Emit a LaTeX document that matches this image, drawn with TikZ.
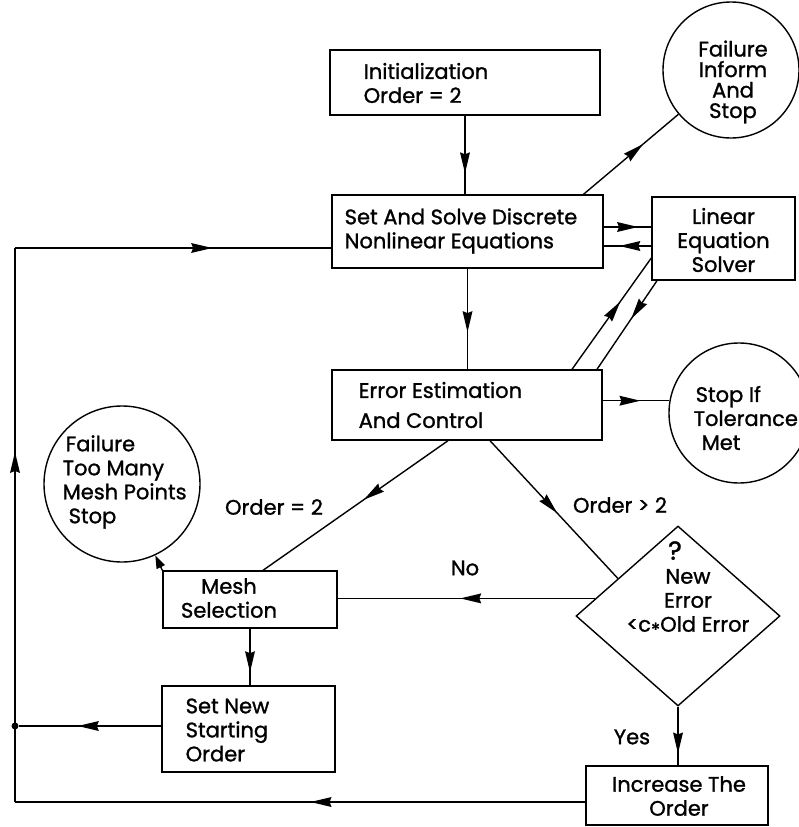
\documentclass[tikz,border=0pt]{standalone}
\usepackage{fontspec}
\newfontfamily\lett{Poppins}[FakeBold=1.2]
\usetikzlibrary{arrows.meta,decorations.markings,shapes.geometric}
\begin{document}
\begin{tikzpicture}[x=1pt,y=-1pt, line width=1.4pt,
  box/.style={draw, rectangle, inner sep=0pt},
  circ/.style={draw, circle, inner sep=0pt},
  txt/.style={font=\lett\fontsize{21}{24}\selectfont, inner sep=0pt, align=left},
  midarr/.style={postaction={decorate}, decoration={markings, mark=at position #1 with {\fill (1pt,0pt) -- (-20pt,5pt) -- (-18pt,0pt) -- (-20pt,-5pt) -- cycle;}}},
  tiparr/.style={-{Triangle[length=13pt,width=9pt]}}
]
\useasboundingbox (0,0) rectangle (799,827);

% boxes and circles
\node[box, minimum width=270, minimum height=65] (init) at (465,82.5) {};
\node[txt, anchor=west] (initt) at (363,83) {Initialization\\Order = 2};

\node[box, minimum width=271, minimum height=73] (solve) at (467.5,231.5) {};
\node[txt, anchor=west] (solvet) at (344,231) {Set And Solve Discrete\\Nonlinear Equations};

\node[box, minimum width=143, minimum height=83] (lin) at (723.5,238.5) {};
\node[txt, align=center] (lint) at (723.5,240) {Linear\\Equation\\Solver};

\node[circ, minimum size=136] (finf) at (731,70) {};
\node[txt, align=center, font=\lett\fontsize{21}{20.5}\selectfont] (finft) at (733,82) {Failure\\Inform\\And\\Stop};

\node[box, minimum width=270, minimum height=70] (err) at (467,405) {};
\node[txt, anchor=west, font=\lett\fontsize{21}{30}\selectfont] (errt) at (358,405) {Error Estimation\\And Control};

\node[circ, minimum size=140] (tol) at (739,413) {};
\node[txt, anchor=west] (tolt) at (693,418) {\hspace*{2pt}Stop If\\Tolerance\\\hspace*{8pt}Met};

\node[circ, minimum size=156] (fmesh) at (122,484) {};
\node[txt, anchor=west] (fmesht) at (62,482) {\hspace*{3pt}Failure\\Too Many\\Mesh Points\\\hspace*{6pt}Stop};

\node[box, minimum width=174, minimum height=57] (mesh) at (250,599.5) {};
\node[txt, align=center] (mesht) at (229,598) {Mesh\\Selection};

\node[box, minimum width=173, minimum height=86] (snew) at (248.5,729) {};
\node[txt, anchor=west] (snewt) at (185,730) {Set New\\Starting\\Order};

\node[draw, diamond, minimum width=204, minimum height=180, inner sep=0pt] (dia) at (678,616) {};
\node[txt, align=center] (diat) at (688,589) {{\fontsize{26}{26}\selectfont ?}\hspace*{26pt}\\New\hspace*{46pt}\\Error\hspace*{46pt}\\{<}c\raisebox{-5pt}{\fontsize{19}{19}\selectfont *}Old Error};

\node[box, minimum width=182, minimum height=59] (inc) at (677,795.5) {};
\node[txt, align=center] (inct) at (679,796) {Increase The\\Order};

% labels
\node[txt] (l2) at (274,507) {Order = 2};
\node[txt] (lg2) at (620,505) {Order > 2};
\node[txt] (lno) at (465,568) {No};
\node[txt] (lyes) at (632,737) {Yes};

% loop coordinates
\coordinate (tl) at (15,248);
\coordinate (bl) at (15,802);
\node[circle, fill, inner sep=0pt, minimum size=7] (dot) at (15,726) {};

% connectors
\draw[midarr=0.72] (init.south) -- (init.south |- solve.north);
\draw[midarr=0.62] ([xshift=116]solve.north) -- (finf);
\draw[midarr=0.7] ([yshift=4.5]solve.east) -- ([yshift=4.5]solve.east -| lin.west);
\draw[midarr=0.65] ([yshift=-14.5]solve.east -| lin.west) -- ([yshift=-14.5]solve.east);
\draw[midarr=0.6] ([xshift=105]err.north) -- ([yshift=-19.5]lin.west);
\draw[midarr=0.42] ([xshift=-66.5]lin.south) -- ([xshift=130]err.north);
\draw[midarr=0.62] (solve.south) -- (solve.south |- err.north);
\draw[midarr=0.55] (tol.170 -| err.east) -- (tol.170);
\draw[midarr=0.45] ([xshift=-19]err.south) -- ([xshift=13]mesh.north);
\draw[midarr=0.52] ([xshift=23]err.south) -- (dia.148);
\draw[midarr=0.52] (dia.168) -- (dia.168 -| mesh.east);
\draw[midarr=0.75] (mesh.south) -- (mesh.south |- snew.north);
\draw[tiparr] (mesh.north west) -- (fmesh);
\draw[midarr=0.58] (dot -| snew.west) -- (dot);
\draw[midarr=0.78] (dia.south) -- (dia.south |- inc.north);
\draw[midarr=0.48] (bl -| inc.west) -- (bl);
\draw[midarr=0.63] (bl) -- (tl);
\draw[midarr=0.62] (tl) -- (tl -| solve.west);
\end{tikzpicture}
\end{document}
